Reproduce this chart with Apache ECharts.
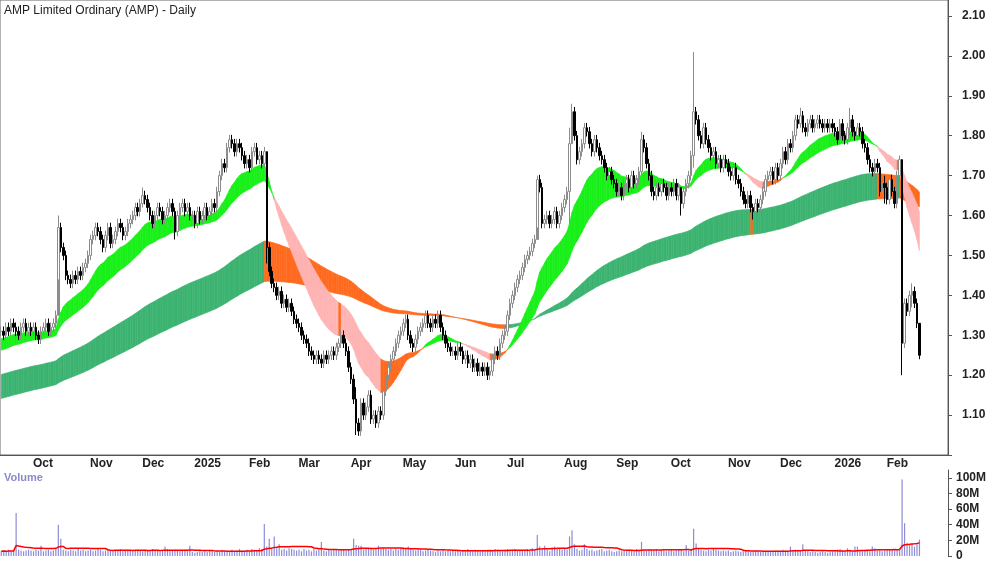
<!DOCTYPE html>
<html><head><meta charset="utf-8">
<script src="https://cdn.jsdelivr.net/npm/echarts@6/dist/echarts.min.js"></script>
<style>html,body{margin:0;padding:0;background:#fff}#c{width:1000px;height:562px}</style>
</head><body><div id="c"></div>
<script>
// Month labels and number of trading bars in each month
const monthLabels = ['', 'Oct', 'Nov', 'Dec', '2025', 'Feb', 'Mar', 'Apr', 'May', 'Jun', 'Jul', 'Aug', 'Sep', 'Oct', 'Nov', 'Dec', '2026', 'Feb'];
// Daily closes by month; [close, high, low] where a bar had a wide range
const closesByMonth = [
 [1.31,1.30,1.32,1.31,1.33,1.32,1.31,1.30,1.32,1.33,1.31,1.32],
 [1.31,1.32,1.30,1.29,1.31,1.32,1.33,1.31,1.32,1.33,1.35,[1.57,1.60,1.44],1.52,1.50,1.45,1.44,1.43,1.45,1.44,1.46,1.45,1.47,1.48],
 [1.50,1.54,1.55,1.57,1.56,1.54,1.52,1.55,1.57,1.53,1.54,1.56,1.58,1.57,1.55,1.56,1.58,1.59,1.60,1.62,1.61],
 [1.63,[1.65,1.67,1.62],1.64,1.62,1.60,1.58,1.60,1.62,1.61,1.59,1.60,1.62,1.63,1.61,[1.56,1.62,1.54],1.60,1.62,1.63,1.61,1.62,1.60],
 [1.60,1.58,1.61,1.59,1.60,1.62,1.60,1.61,1.63,1.62,1.66,1.70,1.73,1.72,1.77,1.79,1.78,1.76,1.78,1.77,1.75,1.73],
 [1.74,1.72,1.76,1.77,1.74,1.75,1.73,1.76,[1.52,1.64,1.48],1.46,1.43,1.42,1.40,1.41,1.38,1.39,1.37,1.38,1.36,1.34],
 [1.33,1.32,1.30,1.29,1.28,1.26,1.25,1.24,1.25,1.24,1.23,1.25,1.24,1.25,1.26,1.25,1.27,1.28,1.30,1.28,1.26],
 [1.22,1.19,1.14,[1.08,1.17,1.05],1.06,1.13,1.10,1.12,1.15,1.09,1.10,1.08,1.11,1.10,1.16,1.20,1.22,1.24,1.26,1.28,1.30],
 [1.31,1.33,1.34,1.30,1.28,1.27,1.29,1.31,1.32,1.33,1.35,1.33,1.32,1.34,1.33,1.35,1.32,1.30,1.28,1.27,1.26],
 [1.26,1.25,1.27,1.26,1.24,1.25,1.23,1.24,1.22,1.23,1.21,1.22,1.21,1.22,1.20,1.21,1.24,1.26,1.25,1.28,1.30],
 [1.31,1.35,1.38,1.40,1.42,1.44,1.45,1.47,1.49,1.50,1.51,1.53,1.54,[1.69,1.70,1.57],1.67,1.58,1.59,1.60,1.58,1.59,1.61,1.58,1.60],
 [1.62,1.64,1.66,[1.78,1.82,1.58],[1.86,1.88,1.80],1.80,1.74,1.76,1.78,1.82,1.81,1.78,1.76,1.79,1.77,1.75,1.74,1.72,1.70,1.71,1.69],
 [1.68,1.66,1.67,1.65,1.68,1.69,1.67,1.70,1.68,1.69,1.71,[1.79,1.81,1.70],1.77,1.73,1.70,1.66,1.65,1.67,1.66,1.68,1.67,1.65],
 [1.67,1.66,1.68,1.65,1.67,[1.63,1.67,1.60],1.66,1.68,1.70,1.75,[1.86,2.01,1.72],1.84,1.80,1.78,1.82,1.79,1.77,1.75,1.76,1.73,1.74,1.72,1.74],
 [1.73,1.71,1.70,1.72,1.69,1.68,1.66,1.64,1.63,1.65,1.62,[1.61,1.63,1.59],1.63,1.62,1.64,1.66,1.69,1.70,1.71,1.69,1.72],
 [1.70,1.73,1.76,1.74,1.78,1.77,1.80,1.84,1.83,[1.85,1.87,1.82],1.82,1.81,1.83,1.84,1.82,1.83,1.84,1.83,1.82,1.83,1.82,1.83],
 [1.82,1.81,1.79,1.83,1.80,1.79,1.82,[1.84,1.87,1.80],1.81,1.80,1.82,1.81,1.78,1.77,1.74,1.72,1.71,1.73,1.72,1.66,1.68],
 [[1.67,1.70,1.63],1.64,1.69,1.66,1.63,1.70,[1.74,1.75,1.68],[1.28,1.45,1.20],1.38,1.36,1.40,[1.41,1.43,1.37],1.38,1.33,[1.25,1.31,1.24]]
];
// Daily volume (millions) by month
const volumeByMonth = [
 [6,7,5,8,6,7,55,8,7,6,7,8],
 [7,6,8,7,13,6,7,8,6,7,9,40,22,8,7,6,8,7,6,9,7,8,6],
 [7,8,6,7,9,8,6,7,8,7,6,8,7,9,6,7,8,7,6,7,8],
 [7,6,8,7,6,9,7,8,6,7,12,9,6,7,8,7,6,7,8,6,13],
 [5,4,5,6,5,6,5,7,6,5,6,5,7,6,5,6,8,6,7,9,7,6],
 [8,6,9,8,7,10,9,41,12,22,9,25,10,15,8,9,7,10,9,8],
 [7,8,6,9,7,8,6,9,7,8,18,7,6,8,7,9,8,7,9,8,7],
 [8,9,22,14,13,13,8,9,10,9,8,9,13,9,10,9,8,9,7,9,8],
 [10,11,9,12,9,8,7,9,8,6,7,8,7,6,5,7,6,8,6,7,6],
 [7,6,8,6,7,6,9,7,6,8,7,6,7,6,8,7,6,9,8,7,6],
 [8,9,7,8,9,7,8,7,8,9,7,10,8,27,12,9,13,8,6,11,12,10,9],
 [8,9,8,25,33,15,9,7,8,15,9,7,8,6,7,8,9,6,7,8,6],
 [5,6,7,6,7,6,8,7,6,9,8,18,8,7,9,8,7,9,6,8,7,6],
 [7,8,6,7,9,8,6,14,7,8,35,16,9,8,7,6,8,7,9,8,7,6,7],
 [6,7,5,6,7,6,5,6,7,6,5,6,7,6,5,6,7,6,5,6,7],
 [7,6,8,7,6,12,7,8,6,7,15,7,6,5,6,5,4,5,6,5,4,5],
 [6,7,8,9,7,6,10,8,6,12,12,7,6,8,7,6,12,10,7,8,6],
 [7,8,9,8,7,9,10,98,42,17,14,16,12,15,21]
];
const blankBarsAtEnd = 11;

// ---- build arrays ----
const cats = [], monthStart = {}, closes = [], highs = [], lows = [], vols = [];
closesByMonth.forEach((m, mi) => {
  m.forEach((v, di) => {
    const idx = cats.length;
    if (di === 0 && monthLabels[mi]) monthStart[idx] = monthLabels[mi];
    cats.push(String(idx));
    if (Array.isArray(v)) { closes.push(v[0]); highs.push(v[1]); lows.push(v[2]); }
    else { closes.push(v); highs.push(null); lows.push(null); }
  });
});
for (let k = 0; k < blankBarsAtEnd; k++) cats.push('p' + k);
volumeByMonth.forEach(m => m.forEach(v => vols.push(v * 1e6)));
const N = closes.length;
const candles = closes.map((c, i) => {
  const o = i === 0 ? c : closes[i - 1];
  const h = highs[i] != null ? highs[i] : Math.max(o, c) + 0.012;
  const l = lows[i] != null ? lows[i] : Math.min(o, c) - 0.012;
  return [o, c, l, h];
});
function ema(p, seed) { const a = 2 / (p + 1); let e = seed; return closes.map(c => (e = e + a * (c - e))); }
const sF = ema(20, 1.29), sS = ema(40, 1.26), lF = ema(125, 1.20), lS = ema(200, 1.14);
function band(f, s, kind) {
  const out = [];
  for (let i = 0; i < N - 1; i++) {
    let col;
    if (kind === 's') col = f[i] >= s[i] ? '#19f019' : (f[i + 1] < f[i] ? '#ffb4b4' : '#ff6a1f');
    else col = f[i + 1] >= f[i] ? '#3cb371' : '#ff6a1f';
    out.push([i, f[i], s[i], f[i + 1], s[i + 1], col]);
  }
  return out;
}
const volMA = vols.map((v, i) => { let s = 0, n = 0; for (let j = Math.max(0, i - 19); j <= i; j++) { s += vols[j]; n++; } return s / n; });

const sb = band(sF, sS, 's'), lb = band(lF, lS, 'l');
const bandColors = { sb: sb.map(d => d[5]), lb: lb.map(d => d[5]) };
function renderBand(params, api) {
  const i = api.value(0);
  const p1 = api.coord([i, api.value(1)]), p2 = api.coord([i + 1, api.value(3)]);
  const p3 = api.coord([i + 1, api.value(4)]), p4 = api.coord([i, api.value(2)]);
  const c = bandColors[params.seriesName][params.dataIndex];
  return { type: 'polygon', shape: { points: [p1, p2, p3, p4] }, style: { fill: c, stroke: c, lineWidth: 0.6 } };
}
const isStart = (i) => monthStart[i] !== undefined;

const chart = echarts.init(document.getElementById('c'));
chart.setOption({
  animation: false,
  graphic: [
    { type: 'text', left: 4, top: 5, style: { text: 'AMP Limited Ordinary (AMP) - Daily', font: '12px Arial, Liberation Sans', fill: '#222' } },
    { type: 'text', left: 4, top: 472, style: { text: 'Volume', font: 'bold 11px Arial, Liberation Sans', fill: '#8a8acb' } }
  ],
  grid: [
    { left: 0, right: 52, top: 0, height: 455, show: true, borderColor: '#666', borderWidth: 1 },
    { left: 0, right: 52, top: 470, height: 88 }
  ],
  xAxis: [
    { type: 'category', data: cats, gridIndex: 0, boundaryGap: true,
      axisLine: { lineStyle: { color: '#555' } },
      axisTick: { interval: (i) => isStart(i), inside: true, length: 4, lineStyle: { color: '#555' } },
      axisLabel: { interval: (i) => isStart(i), formatter: (v, i) => monthStart[i] || '', align: 'left', padding: [0, 0, 0, 2], margin: 3,
        fontWeight: 'bold', fontSize: 12, color: '#222', fontFamily: 'Arial, Liberation Sans' },
      splitLine: { show: false } },
    { type: 'category', data: cats, gridIndex: 1, boundaryGap: true, axisLine: { show: false }, axisTick: { show: false }, axisLabel: { show: false } }
  ],
  yAxis: [
    { type: 'value', gridIndex: 0, position: 'right', min: 1.0, max: 2.14, interval: 0.1, splitLine: { show: false },
      axisLine: { show: true, lineStyle: { color: '#555' } }, axisTick: { show: true, length: 4, lineStyle: { color: '#555' } },
      axisLabel: { showMaxLabel: false, margin: 14, formatter: v => (v < 1.05 ? '' : v.toFixed(2)), fontWeight: 'bold', fontSize: 12, color: '#222', fontFamily: 'Arial, Liberation Sans' } },
    { type: 'value', gridIndex: 1, position: 'right', min: 0, max: 110e6, interval: 20e6, splitLine: { show: false },
      axisLine: { show: true, lineStyle: { color: '#555' } }, axisTick: { show: true, length: 4, lineStyle: { color: '#555' } },
      axisLabel: { showMaxLabel: false, margin: 8, formatter: v => (v === 0 ? '0' : (v / 1e6) + 'M'), fontWeight: 'bold', fontSize: 12, color: '#222', fontFamily: 'Arial, Liberation Sans' } }
  ],
  series: [
    { name: 'lb', type: 'custom', xAxisIndex: 0, yAxisIndex: 0, renderItem: renderBand, data: lb.map(d => d.slice(0, 5)), encode: { x: 0, y: [1, 2, 3, 4] }, z: 1, silent: true },
    { name: 'sb', type: 'custom', xAxisIndex: 0, yAxisIndex: 0, renderItem: renderBand, data: sb.map(d => d.slice(0, 5)), encode: { x: 0, y: [1, 2, 3, 4] }, z: 2, silent: true },
    { type: 'candlestick', xAxisIndex: 0, yAxisIndex: 0, data: candles, barWidth: 2, z: 5,
      itemStyle: { color: '#ffffff', borderColor: '#8c8c8c', color0: '#000000', borderColor0: '#000000', borderWidth: 1 } },
    { type: 'bar', xAxisIndex: 1, yAxisIndex: 1, data: vols, barWidth: 1.2, itemStyle: { color: '#8c8cd8' } },
    { type: 'line', xAxisIndex: 1, yAxisIndex: 1, data: volMA, showSymbol: false, lineStyle: { color: '#ff0000', width: 1.5 }, z: 5 }
  ]
});
</script></body></html>
